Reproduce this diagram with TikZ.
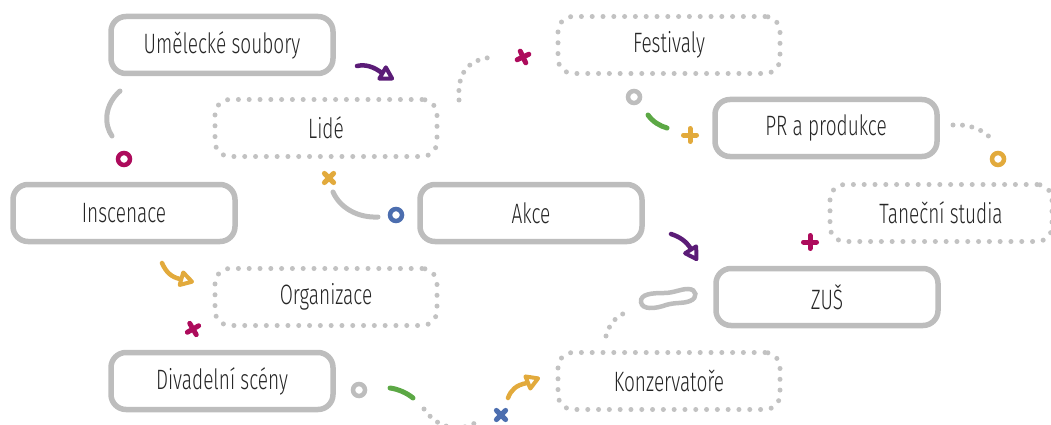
\documentclass[tikz,border=0pt]{standalone}
\usepackage{fontspec}
\setmainfont{Fira Sans Light}[FakeStretch=0.68]
\usetikzlibrary{arrows.meta}
\definecolor{boxgray}{HTML}{BDBDBD}
\definecolor{dotgray}{HTML}{C2C2C2}
\definecolor{txt}{HTML}{262626}
\definecolor{mag}{HTML}{AD0B5C}
\definecolor{yel}{HTML}{E2AA3C}
\definecolor{blu}{HTML}{4C6EAF}
\definecolor{grn}{HTML}{5CA845}
\definecolor{pur}{HTML}{5B1C77}
\newcommand\crossmark[4]{\draw[#1, line width=5pt, line cap=round, shift={(#2,#3)}, rotate=#4] (-6.5,0) -- (6.5,0) (0,-6.5) -- (0,6.5);}
\newcommand\ringmark[3]{\draw[#1, line width=4.5pt] (#2,#3) circle (6pt);}
\newcommand\headmark[4]{\draw[#1, line width=4pt, line join=round, shift={(#2,#3)}, rotate=-#4] (-1,0) -- (-12,-6.5) -- (-12,6.5) -- cycle;}
\tikzset{
  solidbox/.style={draw=boxgray, line width=5.5pt, rounded corners=15pt, minimum width=222pt, minimum height=57pt, fill=white, text=txt, font=\fontsize{28}{30}\selectfont, inner sep=0pt},
  dotbox/.style={solidbox, draw=dotgray, line width=5pt, dash pattern=on 0pt off 10.8pt, line cap=round},
  grayline/.style={draw=boxgray, line width=5pt, line cap=round},
  dotline/.style={draw=dotgray, line width=5pt, line cap=round, dash pattern=on 0pt off 9.5pt},
  shaft/.style={line width=4.5pt, line cap=round}
}
\begin{document}
\begin{tikzpicture}[x=1pt,y=-1pt]
\useasboundingbox (0,0) rectangle (1051,425);
% boxes
\node[solidbox] (ums) at (222,45) {Umělecké soubory};
\node[dotbox] (lide) at (326,128) {Lidé};
\node[solidbox] (insc) at (124,213) {Inscenace};
\node[dotbox] (org) at (326,297) {Organizace};
\node[solidbox] (div) at (222,381) {Divadelní scény};
\node[solidbox] (akce) at (531,213) {Akce};
\node[dotbox] (fest) at (669,45) {Festivaly};
\node[solidbox] (pr) at (826,128) {PR a produkce};
\node[dotbox] (tan) at (941,213) {Taneční studia};
\node[solidbox] (zus) at (827,297) {ZUŠ};
\node[dotbox] (konz) at (669,381) {Konzervatoře};
% arrows
\draw[shaft, pur] (357,66) .. controls (366,64) and (374,67) .. (382,73);
\headmark{pur}{393}{79}{30}
\draw[shaft, yel] (162,263) .. controls (166,272) and (171,277) .. (180,279);
\headmark{yel}{193}{282}{16}
\draw[shaft, yel] (508,398) .. controls (511,390) and (516,385) .. (527,383);
\headmark{yel}{539}{378}{-22}
\draw[shaft, pur] (671,234) .. controls (680,237) and (686,241) .. (691,249);
\headmark{pur}{697}{260}{58}
% gray arcs
\draw[grayline] (120,91) .. controls (104,105) and (104,125) .. (112,136);
\draw[grayline] (333,192) .. controls (340,208) and (358,218) .. (378,217);
% green arcs
\draw[grn, line width=5pt, line cap=round] (390,388) .. controls (398,389) and (407,393) .. (413,398);
\draw[grn, line width=5pt, line cap=round] (648,115) .. controls (653,122) and (660,126) .. (667,128);
% dotted paths
\draw[dotline] (459,100) .. controls (457,70) and (470,59) .. (494,57);
\draw[dotline] (424,409) .. controls (440,432) and (465,432) .. (481,419);
\draw[dotline] (606,336) .. controls (610,322) and (617,316) .. (627,312);
\draw[dotline] (953,125) .. controls (970,124) and (985,130) .. (993,141);
% blob
\draw[draw=boxgray, line width=4.5pt] (641,302) .. controls (640,294) and (652,293) .. (664,293) .. controls (674,293) and (680,289) .. (688,289) .. controls (697,289) and (698,298) .. (690,301) .. controls (682,304) and (676,302) .. (666,305) .. controls (655,309) and (642,310) .. (641,302) -- cycle;
% crosses
\crossmark{yel}{329}{178}{45}
\crossmark{mag}{193}{329}{30}
\crossmark{blu}{501}{415}{45}
\crossmark{mag}{523}{57}{25}
\crossmark{yel}{690}{135}{0}
\crossmark{mag}{810}{242}{0}
% rings
\ringmark{mag}{124}{159}
\ringmark{blu}{396}{215}
\ringmark{boxgray}{359}{390}
\ringmark{boxgray}{634}{97}
\ringmark{yel}{998}{159}
\end{tikzpicture}
\end{document}
